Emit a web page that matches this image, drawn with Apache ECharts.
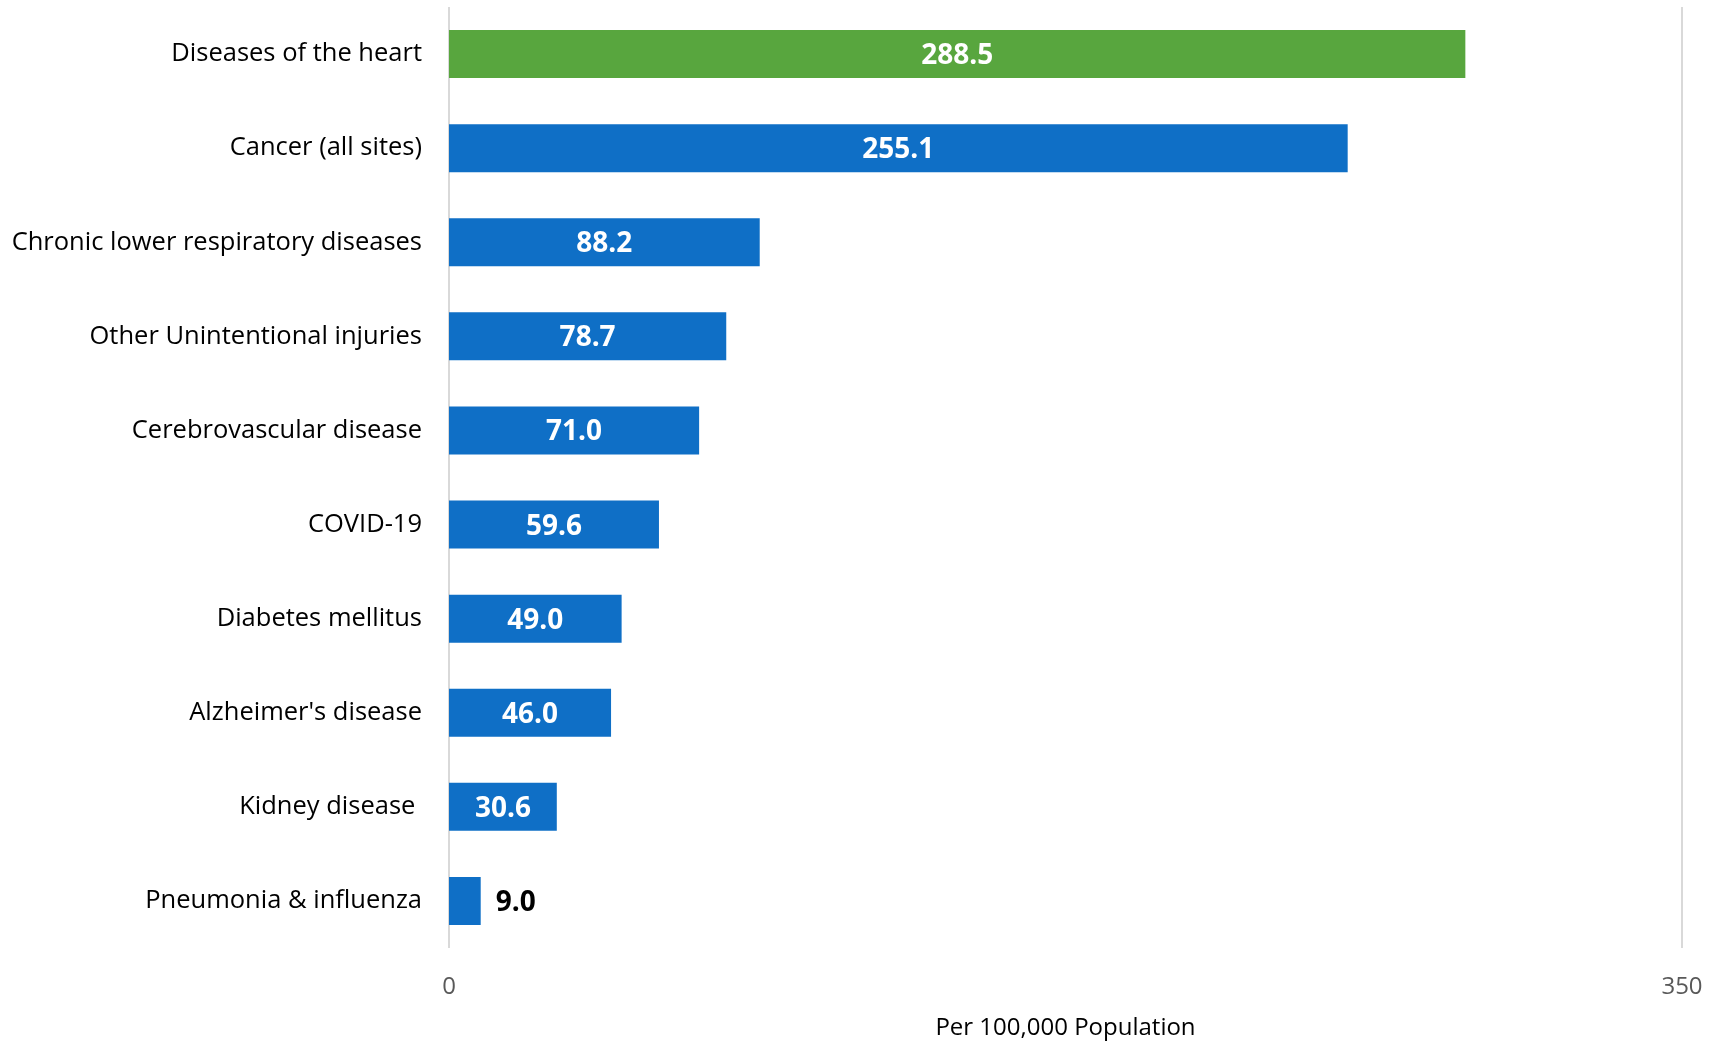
<!DOCTYPE html>
<html>
<head>
<meta charset="utf-8">
<style>
  html, body { margin: 0; padding: 0; background: #ffffff; }
  #chart { width: 1717px; height: 1042px; }
</style>
<script src="https://cdn.jsdelivr.net/npm/echarts@6/dist/echarts.min.js"></script>
</head>
<body>
<div id="chart"></div>
<script>
// Leading causes of death, rate per 100,000 population
const causes = [
  'Diseases of the heart',
  'Cancer (all sites)',
  'Chronic lower respiratory diseases',
  'Other Unintentional injuries',
  'Cerebrovascular disease',
  'COVID-19',
  'Diabetes mellitus',
  "Alzheimer's disease",
  'Kidney disease ',
  'Pneumonia & influenza'
];
const rates = [288.5, 255.1, 88.2, 78.7, 71.0, 59.6, 49.0, 46.0, 30.6, 9.0];
const axisTicks = [0, 350];
const axisTitle = 'Per 100,000 Population';

const FONT = '"Open Sans", "Noto Sans", sans-serif';
const BLUE = '#0f6fc6';
const GREEN = '#58a63e';

const chart = echarts.init(document.getElementById('chart'), null, { renderer: 'canvas' });

const barData = rates.map((v, i) => {
  const item = { value: v, itemStyle: { color: i === 0 ? GREEN : BLUE } };
  if (v < 20) {
    item.label = { position: 'right', color: '#000000', distance: 15 };
  }
  return item;
});

chart.setOption({
  animation: false,
  backgroundColor: '#ffffff',
  grid: {
    left: 449, right: 35, top: 7, bottom: 94,
    containLabel: false,
    outerBoundsMode: 'none'
  },
  xAxis: {
    type: 'value',
    min: axisTicks[0],
    max: axisTicks[axisTicks.length - 1],
    interval: axisTicks[axisTicks.length - 1] - axisTicks[0],
    axisLine: { show: false },
    axisTick: { show: false },
    splitLine: { show: true, lineStyle: { color: '#d9d9d9', width: 2 } },
    axisLabel: { color: '#595959', fontFamily: FONT, fontSize: 24, margin: 27 },
    name: axisTitle,
    nameLocation: 'middle',
    nameGap: 68,
    nameTextStyle: { color: '#000000', fontFamily: FONT, fontSize: 24 }
  },
  yAxis: {
    type: 'category',
    inverse: true,
    data: causes,
    axisLine: { show: false },
    axisTick: { show: false },
    splitLine: { show: false },
    axisLabel: { color: '#000000', fontFamily: FONT, fontSize: 25.5, margin: 27 }
  },
  series: [{
    type: 'bar',
    data: barData,
    barCategoryGap: '49%',
    label: {
      show: true,
      position: 'inside',
      color: '#ffffff',
      fontFamily: FONT,
      fontWeight: 'bold',
      fontSize: 28,
      offset: [0, 2],
      formatter: p => p.value.toFixed(1)
    }
  }]
});
</script>
</body>
</html>
